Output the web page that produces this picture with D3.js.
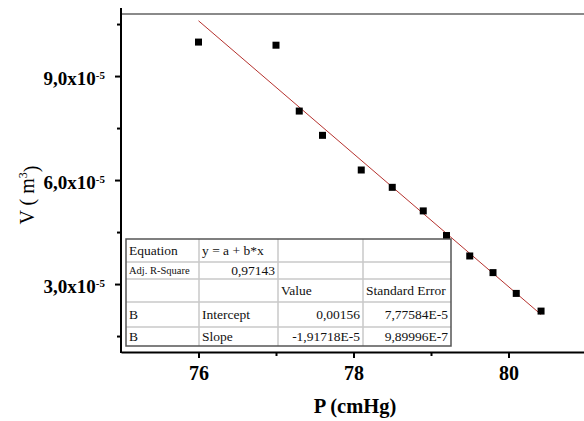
<!DOCTYPE html>
<html>
<head>
<meta charset="utf-8">
<script src="https://cdn.jsdelivr.net/npm/d3@7"></script>
<style>
  body { margin: 0; background: #fff; }
  svg { display: block; font-family: "Liberation Serif", "DejaVu Serif", serif; }
</style>
</head>
<body>
<svg id="chart" width="584" height="421"></svg>
<script>
// measured points (P in cmHg, V in m^3)
const pressure = [76.0, 77.0, 77.3, 77.6, 78.1, 78.5, 78.9, 79.2, 79.5, 79.8, 80.1, 80.42];
const volume = [9.98e-5, 9.89e-5, 7.99e-5, 7.29e-5, 6.29e-5, 5.79e-5, 5.11e-5, 4.40e-5, 3.81e-5, 3.33e-5, 2.73e-5, 2.22e-5];

// linear fit y = a + b*x
const fitIntercept = 0.001563;
const fitSlope = -1.91718e-5;

const xTicks = [76, 78, 80];
const xMinorTicks = [77, 79];
const yTicks = [3e-5, 6e-5, 9e-5];
const yTickLabels = ["3,0x10", "6,0x10", "9,0x10"];
const yMinorTicks = [1.5e-5, 4.5e-5, 7.5e-5, 10.5e-5];

const tableRows = [
  ["Equation", "y = a + b*x", "", ""],
  ["Adj. R-Square", "0,97143", "", ""],
  ["", "", "Value", "Standard Error"],
  ["B", "Intercept", "0,00156", "7,77584E-5"],
  ["B", "Slope", "-1,91718E-5", "9,89996E-7"]
];

const svg = d3.select("#chart");

const x = d3.scaleLinear().domain([75, 81]).range([121, 586]);
const y = d3.scaleLinear().domain([1.04e-5, 10.79e-5]).range([352, 14]);

// top frame line
svg.append("line")
  .attr("x1", 121).attr("x2", 584)
  .attr("y1", y.range()[1]).attr("y2", y.range()[1])
  .attr("stroke", "#8a8a8a").attr("stroke-width", 2);

// minor ticks
svg.append("g")
  .attr("transform", `translate(0,${y.range()[0]})`)
  .call(d3.axisBottom(x).tickValues(xMinorTicks).tickSize(4).tickFormat(""))
  .call(g => g.select(".domain").remove())
  .selectAll("line").attr("stroke-width", 2);
svg.append("g")
  .attr("transform", `translate(${x.range()[0]},0)`)
  .call(d3.axisLeft(y).tickValues(yMinorTicks).tickSize(4).tickFormat(""))
  .call(g => g.select(".domain").remove())
  .selectAll("line").attr("stroke-width", 2);

// x axis
const xAxis = svg.append("g")
  .attr("transform", `translate(0,${y.range()[0]})`)
  .call(d3.axisBottom(x).tickValues(xTicks).tickFormat(d3.format("d"))
    .tickSize(6).tickSizeOuter(0).tickPadding(8));
xAxis.select(".domain").attr("stroke-width", 2);
xAxis.selectAll("line").attr("stroke-width", 2);
xAxis.selectAll("text")
  .attr("font-family", "Liberation Serif, serif")
  .attr("font-size", 20).attr("font-weight", "bold").attr("fill", "#000");

// y axis
const yAxis = svg.append("g")
  .attr("transform", `translate(${x.range()[0]},0)`)
  .call(d3.axisLeft(y).tickValues(yTicks).tickSize(6).tickSizeOuter(0).tickPadding(10));
yAxis.select(".domain").remove();
yAxis.append("line")
  .attr("x1", 0).attr("x2", 0).attr("y1", 8).attr("y2", y.range()[0] + 1)
  .attr("stroke", "#000").attr("stroke-width", 2);
yAxis.selectAll("line").attr("stroke-width", 2);
yAxis.selectAll(".tick text")
  .attr("font-family", "Liberation Serif, serif")
  .attr("font-size", 19).attr("font-weight", "bold").attr("fill", "#000")
  .attr("dy", "0.45em")
  .text(null)
  .each(function(d) {
    const t = d3.select(this);
    t.append("tspan").text(yTickLabels[yTicks.indexOf(d)]);
    t.append("tspan").attr("dy", "-0.6em").attr("font-size", 11).text("-5");
  });

// fit line
const fitX = d3.extent(pressure);
svg.append("line")
  .attr("x1", x(fitX[0])).attr("y1", y(fitIntercept + fitSlope * fitX[0]))
  .attr("x2", x(fitX[1])).attr("y2", y(fitIntercept + fitSlope * fitX[1]))
  .attr("stroke", "#b5322e").attr("stroke-width", 1);

// points
svg.append("g")
  .selectAll("rect")
  .data(pressure.map((p, i) => [p, volume[i]]))
  .join("rect")
  .attr("x", d => x(d[0]) - 3.5)
  .attr("y", d => y(d[1]) - 3.5)
  .attr("width", 7).attr("height", 7)
  .attr("fill", "#000");

// fit table
const colX = [126, 199, 278, 363, 451];
const rowY = [239, 262, 279, 302, 327, 346];
const table = svg.append("g");
table.append("rect")
  .attr("x", colX[0]).attr("y", rowY[0])
  .attr("width", colX[4] - colX[0]).attr("height", rowY[5] - rowY[0])
  .attr("fill", "#fff");
rowY.slice(1, -1).forEach(ry => {
  table.append("line")
    .attr("x1", colX[0]).attr("x2", colX[4]).attr("y1", ry).attr("y2", ry)
    .attr("stroke", "#c8c8c8").attr("stroke-width", 1.5);
});
colX.slice(1, -1).forEach(cx => {
  table.append("line")
    .attr("x1", cx).attr("x2", cx).attr("y1", rowY[0]).attr("y2", rowY[5])
    .attr("stroke", "#c8c8c8").attr("stroke-width", 1.5);
});
table.append("rect")
  .attr("x", colX[0]).attr("y", rowY[0])
  .attr("width", colX[4] - colX[0]).attr("height", rowY[5] - rowY[0])
  .attr("fill", "none").attr("stroke", "#555").attr("stroke-width", 1.5);

tableRows.forEach((row, r) => {
  row.forEach((cell, c) => {
    if (!cell) return;
    const rightAlign = (r === 1 && c === 1) || (r >= 3 && c >= 2);
    table.append("text")
      .attr("x", rightAlign ? colX[c + 1] - 3 : colX[c] + 3)
      .attr("y", (rowY[r] + rowY[r + 1]) / 2)
      .attr("dy", "0.35em")
      .attr("text-anchor", rightAlign ? "end" : "start")
      .attr("font-size", r === 1 && c === 0 ? 10.5 : 13.5)
      .attr("fill", "#111")
      .text(cell);
  });
});

// axis titles
svg.append("text")
  .attr("x", 355).attr("y", 413)
  .attr("text-anchor", "middle")
  .attr("font-size", 20.5).attr("font-weight", "bold")
  .text("P (cmHg)");

const yTitle = svg.append("text")
  .attr("transform", "translate(34,195) rotate(-90)")
  .attr("text-anchor", "middle")
  .attr("font-size", 20);
yTitle.append("tspan").text("V ( m");
yTitle.append("tspan").attr("dy", "-0.55em").attr("font-size", 12).text("3");
yTitle.append("tspan").attr("dy", "0.55em").text(")");
</script>
</body>
</html>
